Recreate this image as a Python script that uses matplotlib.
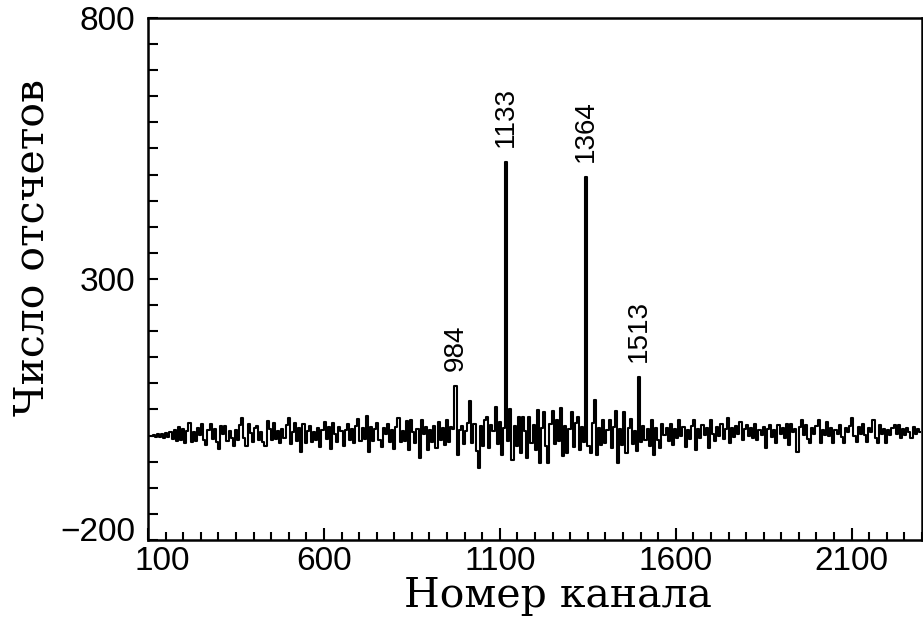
import numpy as np
import matplotlib
matplotlib.use("Agg")
import matplotlib.pyplot as plt
import matplotlib.transforms as mtransforms
from matplotlib.ticker import MultipleLocator, FixedLocator

# ---- data ----
channel_start = 110
channel_step = 6
counts = [
    # 110-224
    0, 2, -3, 4, -2, 3, -4, 5, -3, 6, -6, 10, -11, 17, -8, 12, -14, 9, 24, -12,
    # 230-344
    6, -10, 14, 2, 22, -8, -18, 10, 22, -6, 12, -12, -25, 18, 4, 19, -10, 8, -5, -19,
    # 350-464
    10, -8, 20, 34, -4, -19, 22, 5, -12, 14, 18, -8, 6, -12, -19, 28, 12, -9, 24, -6,
    # 470-584
    8, -14, 12, -4, 20, 34, -16, 6, 24, -10, 14, -32, 22, -14, 8, 18, -12, 6, -8, 14,
    # 590-704
    -22, 10, 27, -6, 16, -26, 25, 4, -12, 16, 8, -19, 10, 22, -8, 12, -14, 18, 31, -10,
    # 710-824
    14, -6, 37, -32, 16, -10, 12, 25, -8, -22, 14, 4, 22, -12, 10, -26, 16, 34, -12, 8,
    # 830-944
    -10, 28, -27, 30, 6, -14, 12, -43, 30, 4, 16, -27, 10, -12, 18, -24, 27, -8, 14, -18,
    # 950-1064
    30, -12, 16, 12, 95, -37, 10, 18, -16, 8, 24, 67, -14, 22, -30, -63, 18, -20, 30, 36,
    # 1070-1184
    -24, 20, 8, 54, -16, 26, -37, 14, 524, -10, 50, -46, 18, -20, 36, -34, 36, 8, -43, 36,
    # 1190-1304
    -14, 20, -28, 49, -53, 14, 46, -20, -53, 22, 48, -16, 30, -10, 52, -40, 18, -34, 12, 46,
    # 1310-1424
    -22, 24, 36, -28, 16, -12, 495, -20, -34, 24, 68, -37, 14, -18, 30, -14, 10, 30, -24, 16,
    # 1430-1544
    48, -53, 12, -18, 46, -34, 14, 31, -16, 8, -30, 112, -12, 18, -8, 12, -20, 30, -37, 14,
    # 1550-1664
    -8, -24, 23, 2, 14, -10, 23, -18, 12, -4, 30, 0, 16, -21, 10, -6, 18, 30, -28, 12,
    # 1670-1784
    -4, 20, 2, 14, -24, 30, 4, -10, 16, 0, 22, -6, 12, 33, -15, 14, -2, 18, 4, 27,
    # 1790-1904
    -8, 12, 20, 0, 14, -4, 23, -8, 10, 2, 16, -24, 12, 20, -2, 10, -15, 20, 4, 14,
    # 1910-2024
    -4, 23, -18, 22, 6, 12, -31, 16, 30, 2, 20, -6, -15, 14, 4, 18, 30, -15, 10, 2,
    # 2030-2144
    27, 0, 14, -15, 10, 4, 20, -2, -15, 14, 6, 18, 33, 0, -12, 16, 4, 23, 2, -12,
    # 2150-2264
    14, 6, 30, -4, -15, 20, 4, 12, -15, 10, 2, 14, 20, 4, 20, -5, 12, 2, 14, 6,
    # 2270-2294
    -5, 17, 4, 12, 6,
]
channels = channel_start + channel_step * np.arange(len(counts))

peak_labels = ["984", "1133", "1364", "1513"]
peak_channels = [974, 1118, 1346, 1496]

x_ticks = [100, 600, 1100, 1600, 2100]
y_ticks = [-200, 300, 800]
x_label = "Номер канала"
y_label = "Число отсчетов"

# ---- figure ----
fig = plt.figure(figsize=(9.23, 6.21), dpi=100)
ax = fig.add_axes([148 / 923, 1 - 540 / 621, (922 - 148) / 923, (540 - 18) / 621])

ax.plot(channels, counts, color="black", linewidth=1.5, drawstyle="steps-mid")

ax.set_xlim(100, 2300)
ax.set_ylim(-200, 800)

ax.xaxis.set_major_locator(FixedLocator(x_ticks))
ax.yaxis.set_major_locator(FixedLocator(y_ticks))
ax.xaxis.set_minor_locator(MultipleLocator(50))
ax.yaxis.set_minor_locator(MultipleLocator(50))

ax.tick_params(axis="both", which="both", direction="in", top=False, right=False,
               width=1.5, colors="black")
ax.tick_params(axis="x", which="major", length=9, pad=4)
ax.tick_params(axis="x", which="minor", length=5.5)
ax.tick_params(axis="y", which="major", length=7.5, pad=9)
ax.tick_params(axis="y", which="minor", length=7.5)

for lab in ax.get_xticklabels() + ax.get_yticklabels():
    lab.set_fontfamily("Liberation Sans")
    lab.set_fontsize(24)

# nudge the two corner labels apart as in the original
xl0 = ax.get_xticklabels()[0]
xl0.set_transform(xl0.get_transform() + mtransforms.ScaledTranslation(10 / 72, 0, fig.dpi_scale_trans))
yl0 = ax.get_yticklabels()[0]
yl0.set_transform(yl0.get_transform() + mtransforms.ScaledTranslation(0, 8 / 72, fig.dpi_scale_trans))

for sp in ax.spines.values():
    sp.set_linewidth(1.8)
    sp.set_color("black")

ax.set_xlabel(x_label, fontfamily="DejaVu Serif", fontsize=29.5, va="center")
ax.xaxis.set_label_coords(0.53, -0.107)
ax.set_ylabel(y_label, fontfamily="DejaVu Serif", fontsize=29.5, va="center")
ax.yaxis.set_label_coords(-0.1486, 0.561)

for lab, ch in zip(peak_labels, peak_channels):
    h = counts[list(channels).index(ch)]
    ax.annotate(lab, xy=(ch, h), xytext=(0, 11), textcoords="offset points",
                rotation=90, ha="center", va="bottom",
                fontfamily="Liberation Sans", fontsize=20)

fig.savefig("out.png", dpi=100)
